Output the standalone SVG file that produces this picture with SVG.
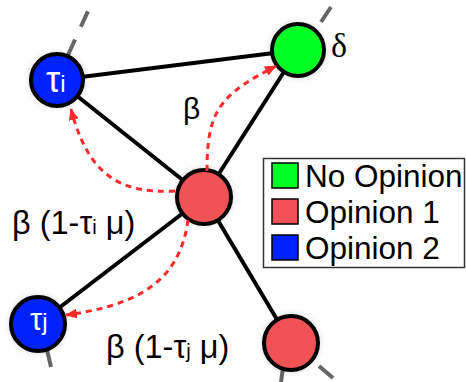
<svg xmlns="http://www.w3.org/2000/svg" width="466" height="382" viewBox="0 0 466 382">
<defs>
<style>
.edge{stroke:#000;stroke-width:4;fill:none}
.stub{stroke:#666;stroke-width:4;fill:none}
.flow{stroke:#ff2a2a;stroke-width:3;fill:none;stroke-dasharray:6 5}
.node{stroke:#000;stroke-width:4}
.blue{fill:#0022ff}
.red{fill:#f05257}
.green{fill:#00ff22}
.sw{stroke:#000;stroke-width:1.5}
.lbl{font-family:"Liberation Sans",Arial,sans-serif;fill:#000}
.nl{font-family:"Liberation Sans",Arial,sans-serif;fill:#fff}
</style>
<marker id="ah" viewBox="0 0 12 10" refX="11" refY="5" markerWidth="12" markerHeight="10" markerUnits="userSpaceOnUse" orient="auto">
<path d="M0,0 L12,5 L0,10 Z" fill="#ff2a2a"/>
</marker>
<filter id="sh" x="-30%" y="-30%" width="160%" height="160%">
<feGaussianBlur in="SourceAlpha" stdDeviation="3"/>
<feComponentTransfer><feFuncA type="linear" slope="0.15"/></feComponentTransfer>
<feMerge><feMergeNode/><feMergeNode in="SourceGraphic"/></feMerge>
</filter>
</defs>
<rect width="466" height="382" fill="#fff"/>
<g id="connectors">
<line class="stub" x1="68" y1="55" x2="88.5" y2="10" stroke-dasharray="17 14"/>
<line class="stub" x1="321" y1="22" x2="331" y2="7"/>
<line class="stub" x1="47" y1="350" x2="51" y2="367"/>
<line class="stub" x1="283" y1="368" x2="281" y2="382"/>
<line class="stub" x1="319" y1="366" x2="333" y2="378"/>
<line class="edge" x1="57" y1="80" x2="298" y2="50"/>
<line class="edge" x1="57" y1="80" x2="204" y2="197"/>
<line class="edge" x1="298" y1="50" x2="204" y2="197"/>
<line class="edge" x1="204" y1="197" x2="38" y2="324"/>
<line class="edge" x1="204" y1="197" x2="291" y2="343"/>
</g>
<g id="nodes" filter="url(#sh)">
<g id="tau-i"><circle class="node blue" cx="57" cy="80" r="26"/></g>
<g id="no-opinion-node"><circle class="node green" cx="298" cy="50" r="26"/></g>
<g id="center"><circle class="node red" cx="204" cy="197" r="27"/></g>
<g id="tau-j"><circle class="node blue" cx="38" cy="324" r="27"/></g>
<g id="bottom"><circle class="node red" cx="291" cy="343" r="27"/></g>
</g>
<g id="node-labels">
<text class="nl" x="46" y="92" font-size="36">τ<tspan font-size="24">i</tspan></text>
<text class="nl" x="30" y="330" font-size="31">τ<tspan font-size="24">j</tspan></text>
</g>
<g id="flows">
<path class="flow" d="M175,191 C120,194 88,175 71,109" marker-end="url(#ah)"/>
<path class="flow" d="M207,171 C207,110 220,95 276,66" marker-end="url(#ah)"/>
<path class="flow" d="M188,220 C180,280 140,305 66,315" marker-end="url(#ah)"/>
</g>
<g id="labels">
<text class="lbl" x="183" y="119" font-size="30">β</text>
<text x="331" y="57" font-size="34" font-family="'Liberation Serif','Times New Roman',serif">δ</text>
<text class="lbl" x="12" y="234" font-size="32.5">β (1-τ<tspan font-size="20">i</tspan> μ)</text>
<text class="lbl" x="106" y="358" font-size="32.5">β (1-τ<tspan font-size="20">j</tspan> μ)</text>
</g>
<g id="legend">
<rect x="263.5" y="158.5" width="201" height="109" fill="#fff" stroke="#333" stroke-width="1.5"/>
<rect class="sw green" x="272" y="163" width="26" height="25"/>
<rect class="sw red" x="272" y="199" width="26" height="25"/>
<rect class="sw blue" x="272" y="235" width="26" height="25"/>
<text class="lbl" x="305" y="187" font-size="31.5">No Opinion</text>
<text class="lbl" x="305" y="223" font-size="31.5">Opinion 1</text>
<text class="lbl" x="305" y="259" font-size="31.5">Opinion 2</text>
</g>
</svg>
